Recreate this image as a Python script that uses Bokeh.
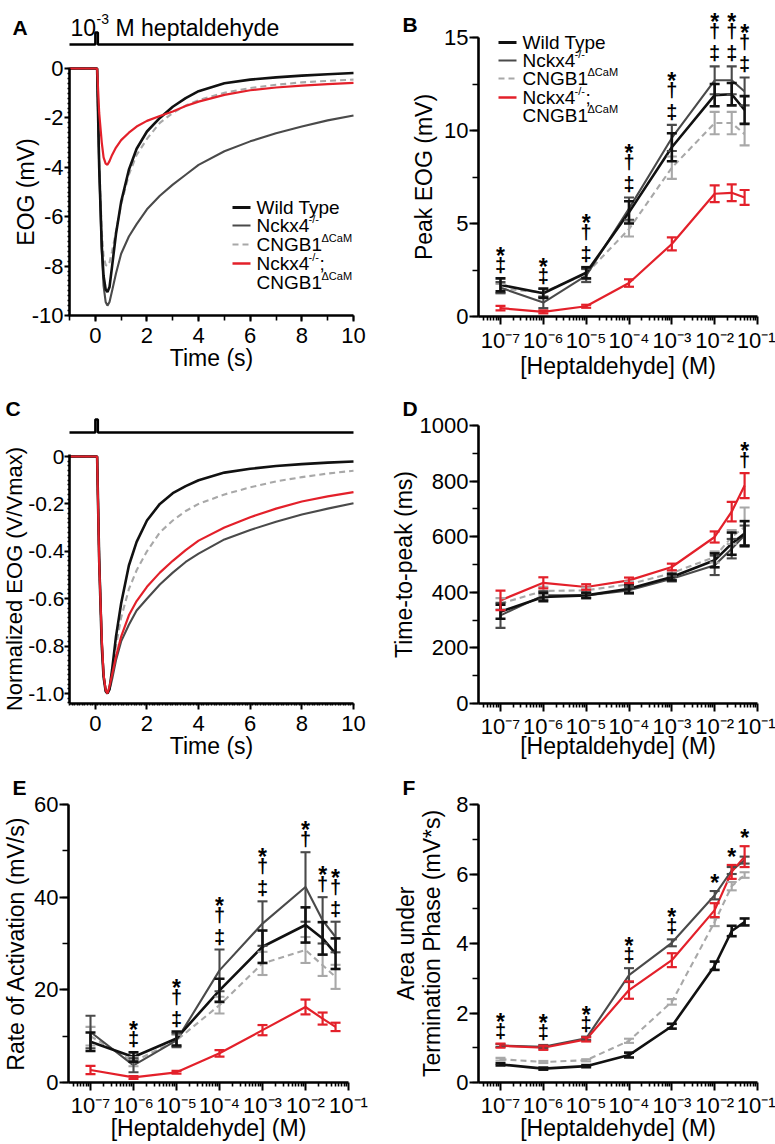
import numpy as np
from bokeh.plotting import figure
from bokeh.models import (ColumnDataSource, Whisker, TeeHead, Label, Arrow,
                          FixedTicker, SingleIntervalTicker, CustomJSTickFormatter, Range1d)
from bokeh.layouts import row, column
from bokeh.core.properties import value
from bokeh.embed import file_html
from bokeh.resources import INLINE

FONT = "Liberation Sans"

# ------------------------------------------------------------------ data
# Panels A / C : EOG traces to a 100 ms pulse of 10^-3 M heptaldehyde
stim_t = [-1, 0, 0, 0.1, 0.1, 10]
stim_on = [0, 0, 1, 1, 0, 0]

trace_t = [-1, 0.07, 0.15, 0.25, 0.32, 0.4, 0.47, 0.55, 0.65, 0.8, 1.0, 1.3, 1.6,
           2.0, 2.5, 3.0, 3.5, 4, 5, 6, 7, 8, 9, 10]
eog_wt = [0, 0, -4.0, -7.2, -8.4, -8.95, -9.05, -8.85, -8.0, -6.7, -5.4, -4.1, -3.25,
          -2.55, -2.0, -1.55, -1.2, -0.92, -0.6, -0.45, -0.36, -0.29, -0.23, -0.18]
eog_nckx4 = [0, 0, -4.0, -7.4, -8.8, -9.45, -9.6, -9.45, -9.0, -8.3, -7.5, -6.8, -6.3,
             -5.7, -5.15, -4.7, -4.3, -3.9, -3.35, -2.95, -2.62, -2.35, -2.1, -1.9]
eog_cngb1 = [0, 0, -3.8, -6.6, -7.6, -7.95, -8.0, -7.85, -7.4, -6.6, -5.5, -4.3, -3.5,
             -2.85, -2.2, -1.8, -1.5, -1.28, -0.98, -0.79, -0.66, -0.56, -0.5, -0.45]
eog_dko = [0, 0, -1.8, -3.0, -3.6, -3.85, -3.9, -3.75, -3.5, -3.2, -2.9, -2.6, -2.35,
           -2.12, -1.92, -1.74, -1.52, -1.34, -1.07, -0.88, -0.77, -0.69, -0.63, -0.58]

norm_wt = [0, 0, -0.44, -0.8, -0.93, -0.99, -1.0, -0.98, -0.9, -0.76, -0.62, -0.46, -0.36,
           -0.27, -0.2, -0.155, -0.125, -0.1, -0.068, -0.052, -0.04, -0.032, -0.026, -0.021]
norm_nckx4 = [0, 0, -0.42, -0.77, -0.92, -0.985, -1.0, -0.985, -0.94, -0.86, -0.78, -0.71, -0.65,
              -0.6, -0.54, -0.49, -0.445, -0.41, -0.35, -0.31, -0.275, -0.245, -0.22, -0.197]
norm_cngb1 = [0, 0, -0.44, -0.8, -0.93, -0.99, -1.0, -0.98, -0.91, -0.8, -0.68, -0.56, -0.48,
              -0.4, -0.32, -0.27, -0.23, -0.2, -0.16, -0.13, -0.105, -0.087, -0.072, -0.06]
norm_dko = [0, 0, -0.45, -0.77, -0.92, -0.985, -1.0, -0.97, -0.92, -0.845, -0.76, -0.67, -0.61,
            -0.55, -0.49, -0.44, -0.395, -0.355, -0.3, -0.256, -0.22, -0.19, -0.168, -0.15]

# Panels B, D, E, F : dose-response (mean, SEM)
conc = [1e-7, 1e-6, 1e-5, 1e-4, 1e-3, 1e-2, 2.5e-2, 5e-2]
decades = [1e-7, 1e-6, 1e-5, 1e-4, 1e-3, 1e-2, 1e-1]

peak_wt = [1.7, 1.25, 2.35, 5.6, 9.1, 11.9, 11.95, 11.1]
peak_wt_err = [0.35, 0.25, 0.3, 0.6, 0.75, 0.6, 0.6, 0.75]
peak_nckx4 = [1.55, 0.75, 2.2, 5.8, 9.6, 12.7, 12.7, 12.1]
peak_nckx4_err = [0.3, 0.3, 0.35, 0.6, 0.7, 0.75, 0.75, 0.75]
peak_cngb1 = [1.5, 1.3, 2.3, 4.7, 8.0, 10.4, 10.4, 9.8]
peak_cngb1_err = [0.25, 0.2, 0.3, 0.4, 0.6, 0.6, 0.6, 0.6]
peak_dko = [0.45, 0.25, 0.55, 1.8, 3.9, 6.6, 6.65, 6.4]
peak_dko_err = [0.12, 0.08, 0.08, 0.2, 0.35, 0.45, 0.45, 0.4]

ttp_wt = [330, 383, 389, 413, 455, 515, 575, 611]
ttp_wt_err = [25, 15, 10, 15, 12, 25, 40, 45]
ttp_nckx4 = [317, 389, 389, 407, 449, 497, 557, 605]
ttp_nckx4_err = [45, 15, 8, 12, 10, 35, 35, 35]
ttp_cngb1 = [359, 405, 407, 429, 469, 527, 599, 635]
ttp_cngb1_err = [20, 15, 10, 10, 10, 20, 25, 70]
ttp_dko = [371, 434, 419, 443, 491, 599, 690, 784]
ttp_dko_err = [35, 20, 10, 10, 12, 20, 35, 45]

rate_wt = [8.8, 5.5, 9.5, 19.9, 29.3, 34.0, 31.1, 27.8]
rate_wt_err = [2.0, 1.0, 1.5, 2.5, 3.5, 3.8, 3.5, 3.3]
rate_nckx4 = [10.9, 3.7, 9.1, 24.2, 34.3, 42.2, 35.0, 31.4]
rate_nckx4_err = [3.5, 1.5, 1.5, 4.5, 4.8, 7.5, 5.0, 3.3]
rate_cngb1 = [10.0, 4.5, 9.1, 16.7, 25.7, 28.6, 25.3, 22.8]
rate_cngb1_err = [2.0, 1.0, 1.2, 1.8, 2.5, 2.8, 2.3, 2.6]
rate_dko = [2.7, 1.1, 2.2, 6.3, 11.3, 16.3, 13.8, 12.0]
rate_dko_err = [0.9, 0.3, 0.3, 0.7, 1.1, 1.6, 1.3, 0.9]

area_wt = [0.52, 0.4, 0.47, 0.79, 1.62, 3.36, 4.36, 4.62]
area_wt_err = [0.03, 0.03, 0.03, 0.07, 0.07, 0.12, 0.15, 0.1]
area_nckx4 = [1.06, 1.03, 1.27, 3.09, 4.02, 5.39, 6.1, 6.4]
area_nckx4_err = [0.04, 0.05, 0.05, 0.2, 0.1, 0.12, 0.1, 0.1]
area_cngb1 = [0.67, 0.59, 0.64, 1.2, 2.32, 4.62, 5.65, 5.97]
area_cngb1_err = [0.04, 0.03, 0.03, 0.06, 0.08, 0.12, 0.12, 0.08]
area_dko = [1.06, 1.0, 1.24, 2.66, 3.52, 4.96, 6.06, 6.5]
area_dko_err = [0.06, 0.06, 0.06, 0.25, 0.2, 0.2, 0.2, 0.3]

# significance marks (top to bottom) per concentration
sig_B = ["*‡", "*‡", "*†‡", "*†‡", "*†‡", "*†‡", "*†‡", "*†‡"]
sig_D = ["", "", "", "", "", "", "", "*†"]
sig_E = ["", "*‡", "*†‡", "*†‡", "*†‡", "*†", "*†", "*†‡"]
sig_F = ["*‡", "*‡", "*‡", "*‡", "*‡", "*", "*", "*"]

# ------------------------------------------------------------------ styles
C_WT, C_NK, C_CN, C_DK = "#111111", "#4a4a4a", "#a8a8a8", "#e3202a"
W_WT, W_NK, W_CN, W_DK = 2.6, 2.1, 2.1, 2.2
DASH = "6 4"


def make_panel(fx, fy, fw, fh, x_cal, y_cal, xlog=False):
    """Figure whose frame fills the whole canvas; X/Y convert page pixels to data."""
    (xv1, xp1), (xv2, xp2) = x_cal
    a1, a2 = (np.log10(xv1), np.log10(xv2)) if xlog else (xv1, xv2)
    sx = (a2 - a1) / (xp2 - xp1)

    def X(px):
        a = a1 + (px - xp1) * sx
        return float(10 ** a) if xlog else float(a)

    (yv1, yp1), (yv2, yp2) = y_cal
    sy = (yv2 - yv1) / (yp2 - yp1)

    def Y(py):
        return float(yv1 + (py - yp1) * sy)

    p = figure(width=fw, height=fh, x_range=Range1d(X(fx), X(fx + fw)),
               y_range=Range1d(Y(fy + fh), Y(fy)),
               x_axis_type="log" if xlog else "linear", output_backend="svg",
               toolbar_location=None, min_border=0, min_border_left=0, min_border_right=0,
               min_border_top=0, min_border_bottom=0)
    p.outline_line_color = None
    p.grid.visible = False
    p.background_fill_color = "white"
    p.border_fill_color = "white"
    return p, X, Y


def style_axes(p, xlabel, ylabel, x_at, y_at, xbounds, ybounds, xticker, yticker,
               yfmt=None, xfmt=None, x_major=6, x_minor=4, y_major=8, y_minor=5,
               x_lab_std=0, y_lab_std=0, x_tick_std=1, y_tick_std=1,
               x_fs="22px", y_fs="22px", ylab_fs="23px"):
    xa, ya = p.xaxis[0], p.yaxis[0]
    for ax in (xa, ya):
        ax.axis_line_width = 2.6
        ax.axis_line_color = "black"
        ax.major_tick_line_width = 2
        ax.minor_tick_line_width = 1.6
        ax.major_tick_line_color = "black"
        ax.minor_tick_line_color = "black"
        ax.major_tick_in = 0
        ax.minor_tick_in = 0
        ax.major_label_text_font = FONT
        ax.major_label_text_color = "black"
        ax.major_label_text_line_height = 1.0
        ax.axis_label_text_font = FONT
        ax.axis_label_text_font_size = "23px"
        ax.axis_label_text_font_style = "normal"
        ax.axis_label_text_color = "black"
        ax.axis_label_text_line_height = 1.0
    xa.major_label_text_font_size = x_fs
    ya.major_label_text_font_size = y_fs
    ya.axis_label_text_font_size = ylab_fs
    xa.axis_label = xlabel
    ya.axis_label = ylabel
    xa.fixed_location = x_at
    ya.fixed_location = y_at
    xa.ticker = xticker
    ya.ticker = yticker
    xa.major_tick_out = x_major
    xa.minor_tick_out = x_minor
    ya.major_tick_out = y_major
    ya.minor_tick_out = y_minor
    xa.bounds = xbounds
    ya.bounds = ybounds
    xa.axis_label_standoff = x_lab_std
    ya.axis_label_standoff = y_lab_std
    xa.major_label_standoff = x_tick_std
    ya.major_label_standoff = y_tick_std
    if yfmt is not None:
        ya.formatter = yfmt
    if xfmt is not None:
        xa.formatter = xfmt


def log_ticker():
    minor = [k * 10.0 ** e for e in range(-8, -1) for k in range(2, 10)
             if 10 ** -7.52 <= k * 10.0 ** e <= 0.1]
    return FixedTicker(ticks=decades, minor_ticks=minor)


def log_formatter():
    return CustomJSTickFormatter(code="""
const e = Math.round(Math.log10(tick));
const m = {"-": "\u207b", "0": "\u2070", "1": "\u00b9", "2": "\u00b2", "3": "\u00b3",
           "4": "\u2074", "5": "\u2075", "6": "\u2076", "7": "\u2077", "8": "\u2078", "9": "\u2079"};
return "10" + String(e).split("").map(c => m[c]).join("");
""")


def zero_fmt(decimals):
    return CustomJSTickFormatter(code=f"""
if (Math.abs(tick) < 1e-9) return "0";
return tick.toFixed({decimals});
""")


def add_letter(p, X, Y, px, py, letter):
    p.add_layout(Label(x=X(px), y=Y(py), text=letter, text_font=FONT, text_font_size="21px",
                       text_font_style="bold", text_baseline="alphabetic", text_align="left",
                       text_color="black"))


def add_stim(p, fy, fh, base_py, top_py):
    s = 1.0 / (base_py - top_py)
    p.extra_y_ranges = {"stim": Range1d((base_py - (fy + fh)) * s, (base_py - fy) * s)}
    p.line(stim_t, stim_on, y_range_name="stim", line_color="black", line_width=2.4)


def add_series(p, x, m, e, color, lw, dash="solid"):
    src = ColumnDataSource(dict(x=x, lo=[a - b for a, b in zip(m, e)],
                                hi=[a + b for a, b in zip(m, e)]))
    w = Whisker(source=src, base="x", lower="lo", upper="hi", line_color=color, line_width=lw,
                upper_head=TeeHead(size=10, line_color=color, line_width=lw),
                lower_head=TeeHead(size=10, line_color=color, line_width=lw), level="glyph")
    p.add_layout(w)
    p.line(x, m, line_color=color, line_width=lw, line_dash=dash)


def add_sig(p, marks, series):
    tops = [max(m[i] + e[i] for m, e in series) for i in range(len(conc))]
    xs, ys, ts, offs, sizes = [], [], [], [], []
    for c, mk, top in zip(conc, marks, tops):
        off = 0
        for k, ch in enumerate(reversed(mk)):
            if k == 0:
                off = 8 if ch == "*" else 13
            else:
                off += 9 if ch == "*" else 22
            xs.append(c)
            ys.append(top)
            ts.append(ch)
            offs.append(-off)
            sizes.append("23px" if ch == "*" else "20px")
    src = ColumnDataSource(dict(x=xs, y=ys, t=ts, o=offs, s=sizes))
    p.text(x="x", y="y", text="t", y_offset="o", source=src, text_font=value(FONT),
           text_font_size="s", text_font_style="bold", text_align="center",
           text_baseline="alphabetic", text_color="black")


LEGEND_ROWS = [
    (C_WT, W_WT + 0.3, "solid", "Wild Type", None, None),
    (C_NK, W_NK, "solid", "Nckx4", "-/-", None),
    (C_CN, W_CN, DASH, "CNGB1", "ΔCaM", None),
    (C_DK, W_DK + 0.3, "solid", "Nckx4", "-/-", ";"),
    (None, 0, "solid", "CNGB1", "ΔCaM", None),
]
SUP_OFF = {"Nckx4": 52, "CNGB1": 65}


def add_legend(p, X, Y, px0, px1, ptext, rows_py):
    for (col, lw, dash, main, sup, tail), py in zip(LEGEND_ROWS, rows_py):
        if col is not None:
            p.add_layout(Arrow(start=None, end=None, x_start=X(px0), y_start=Y(py),
                               x_end=X(px1), y_end=Y(py), line_color=col, line_width=lw,
                               line_dash=dash))
        p.add_layout(Label(x=X(ptext), y=Y(py), text=main, text_font=FONT, text_font_size="19px",
                           text_baseline="middle", text_align="left", text_color="black"))
        if sup:
            off = SUP_OFF[main]
            p.add_layout(Label(x=X(ptext), y=Y(py), x_offset=off, y_offset=7, text=sup,
                               text_font=FONT, text_font_size="11px", text_baseline="middle",
                               text_align="left", text_color="black"))
            if tail:
                p.add_layout(Label(x=X(ptext), y=Y(py), x_offset=off + 11, text=tail,
                                   text_font=FONT, text_font_size="19px",
                                   text_baseline="middle", text_align="left",
                                   text_color="black"))


# ------------------------------------------------------------------ panel A
pA, XA, YA = make_panel(0, 0, 390, 380, ((-1, 69), (10, 353)), ((0, 68), (-10, 315)))
add_stim(pA, 0, 380, 44, 32)
for ys, col, lw, dash in [(eog_cngb1, C_CN, W_CN, DASH), (eog_nckx4, C_NK, W_NK, "solid"),
                          (eog_wt, C_WT, W_WT, "solid"), (eog_dko, C_DK, W_DK, "solid")]:
    pA.line(trace_t, ys, line_color=col, line_width=lw, line_dash=dash)
style_axes(pA, "Time (s)", "EOG (mV)", -10, -1, (-1, 10), (-10, 0),
           SingleIntervalTicker(interval=2, num_minor_ticks=2),
           SingleIntervalTicker(interval=2, num_minor_ticks=10),
           yfmt=zero_fmt(0), x_major=6, x_minor=5, y_major=5, y_minor=2,
           x_lab_std=-1, y_lab_std=-10, x_tick_std=6)
add_letter(pA, XA, YA, 12, 27, "A")
pA.add_layout(Label(x=XA(70), y=YA(27), text="10", text_font=FONT, text_font_size="23px",
                    text_baseline="alphabetic", text_color="black"))
pA.add_layout(Label(x=XA(70), y=YA(27), x_offset=26, y_offset=9, text="-3", text_font=FONT,
                    text_font_size="14px", text_baseline="alphabetic", text_color="black"))
pA.add_layout(Label(x=XA(70), y=YA(27), x_offset=45, text="M heptaldehyde", text_font=FONT,
                    text_font_size="23px", text_baseline="alphabetic", text_color="black"))
add_legend(pA, XA, YA, 232, 250, 256, [207, 225, 244, 263, 282])

# ------------------------------------------------------------------ panel B
pB, XB, YB = make_panel(390, 0, 385, 380, ((1e-7, 500), (1e-1, 757)), ((0, 316), (15, 37)),
                        xlog=True)
for m, e, col, lw, dash in [(peak_cngb1, peak_cngb1_err, C_CN, W_CN, DASH),
                            (peak_nckx4, peak_nckx4_err, C_NK, W_NK, "solid"),
                            (peak_wt, peak_wt_err, C_WT, W_WT, "solid"),
                            (peak_dko, peak_dko_err, C_DK, W_DK, "solid")]:
    add_series(pB, conc, m, e, col, lw, dash)
style_axes(pB, "[Heptaldehyde] (M)", "Peak EOG (mV)", 0, XB(478), (XB(478), 0.1), (0, 15),
           log_ticker(), SingleIntervalTicker(interval=5, num_minor_ticks=2),
           xfmt=log_formatter(), x_major=8, x_minor=4, y_major=9, y_minor=6,
           x_lab_std=-3, y_lab_std=4, x_tick_std=3)
add_sig(pB, sig_B, [(peak_wt, peak_wt_err), (peak_nckx4, peak_nckx4_err),
                    (peak_cngb1, peak_cngb1_err), (peak_dko, peak_dko_err)])
add_letter(pB, XB, YB, 402, 24, "B")
add_legend(pB, XB, YB, 498, 516, 522, [42, 60, 78, 97, 115])

# ------------------------------------------------------------------ panel C
pC, XC, YC = make_panel(0, 380, 390, 380, ((-1, 69), (10, 353)), ((0, 456), (-1, 693)))
add_stim(pC, 380, 380, 432, 419)
for ys, col, lw, dash in [(norm_cngb1, C_CN, W_CN, DASH), (norm_nckx4, C_NK, W_NK, "solid"),
                          (norm_wt, C_WT, W_WT, "solid"), (norm_dko, C_DK, W_DK, "solid")]:
    pC.line(trace_t, ys, line_color=col, line_width=lw, line_dash=dash)
style_axes(pC, "Time (s)", "Normalized EOG (V/Vmax)", YC(703), -1, (-1, 10), (YC(703), 0.01),
           SingleIntervalTicker(interval=2, num_minor_ticks=20),
           SingleIntervalTicker(interval=0.2, num_minor_ticks=10),
           yfmt=zero_fmt(1), x_major=6, x_minor=2, y_major=5, y_minor=2,
           x_lab_std=-1, y_lab_std=-2, x_tick_std=6, y_tick_std=0, y_fs="21px", ylab_fs="22px")
add_letter(pC, XC, YC, 5, 408, "C")

# ------------------------------------------------------------------ panel D
pD, XD, YD = make_panel(390, 380, 385, 380, ((1e-7, 500), (1e-1, 757)),
                        ((0, 703), (1000, 425)), xlog=True)
for m, e, col, lw, dash in [(ttp_cngb1, ttp_cngb1_err, C_CN, W_CN, DASH),
                            (ttp_nckx4, ttp_nckx4_err, C_NK, W_NK, "solid"),
                            (ttp_wt, ttp_wt_err, C_WT, W_WT, "solid"),
                            (ttp_dko, ttp_dko_err, C_DK, W_DK, "solid")]:
    add_series(pD, conc, m, e, col, lw, dash)
style_axes(pD, "[Heptaldehyde] (M)", "Time-to-peak (ms)", 0, XD(478), (XD(478), 0.1),
           (0, 1000), log_ticker(), SingleIntervalTicker(interval=200, num_minor_ticks=2),
           xfmt=log_formatter(), x_major=8, x_minor=4, y_major=9, y_minor=6,
           x_lab_std=-9, y_lab_std=0, x_tick_std=2)
add_sig(pD, sig_D, [(ttp_wt, ttp_wt_err), (ttp_nckx4, ttp_nckx4_err),
                    (ttp_cngb1, ttp_cngb1_err), (ttp_dko, ttp_dko_err)])
add_letter(pD, XD, YD, 402, 408, "D")

# ------------------------------------------------------------------ panel E
pE, XE, YE = make_panel(0, 760, 390, 382, ((1e-7, 90), (1e-1, 348)), ((0, 1082), (60, 804)),
                        xlog=True)
for m, e, col, lw, dash in [(rate_cngb1, rate_cngb1_err, C_CN, W_CN, DASH),
                            (rate_nckx4, rate_nckx4_err, C_NK, W_NK, "solid"),
                            (rate_wt, rate_wt_err, C_WT, W_WT, "solid"),
                            (rate_dko, rate_dko_err, C_DK, W_DK, "solid")]:
    add_series(pE, conc, m, e, col, lw, dash)
style_axes(pE, "[Heptaldehyde] (M)", "Rate of Activation (mV/s)", 0, XE(68), (XE(68), 0.1),
           (0, 60), log_ticker(), SingleIntervalTicker(interval=20, num_minor_ticks=2),
           xfmt=log_formatter(), x_major=8, x_minor=4, y_major=9, y_minor=6,
           x_lab_std=-6, y_lab_std=2, x_tick_std=2)
add_sig(pE, sig_E, [(rate_wt, rate_wt_err), (rate_nckx4, rate_nckx4_err),
                    (rate_cngb1, rate_cngb1_err), (rate_dko, rate_dko_err)])
add_letter(pE, XE, YE, 12, 787, "E")

# ------------------------------------------------------------------ panel F
pF, XF, YF = make_panel(390, 760, 385, 382, ((1e-7, 500), (1e-1, 757)), ((0, 1082), (8, 804)),
                        xlog=True)
for m, e, col, lw, dash in [(area_cngb1, area_cngb1_err, C_CN, W_CN, DASH),
                            (area_nckx4, area_nckx4_err, C_NK, W_NK, "solid"),
                            (area_wt, area_wt_err, C_WT, W_WT, "solid"),
                            (area_dko, area_dko_err, C_DK, W_DK, "solid")]:
    add_series(pF, conc, m, e, col, lw, dash)
style_axes(pF, "[Heptaldehyde] (M)", "Area under\nTermination Phase (mV*s)", 0, XF(478),
           (XF(478), 0.1), (0, 8), log_ticker(),
           SingleIntervalTicker(interval=2, num_minor_ticks=2),
           xfmt=log_formatter(), x_major=8, x_minor=4, y_major=9, y_minor=6,
           x_lab_std=-6, y_lab_std=8, x_tick_std=2)
add_sig(pF, sig_F, [(area_wt, area_wt_err), (area_nckx4, area_nckx4_err),
                    (area_cngb1, area_cngb1_err), (area_dko, area_dko_err)])
add_letter(pF, XF, YF, 402, 787, "F")

layout = column(row(pA, pB), row(pC, pD), row(pE, pF))
open("out.html", "w").write(file_html(layout, INLINE))
